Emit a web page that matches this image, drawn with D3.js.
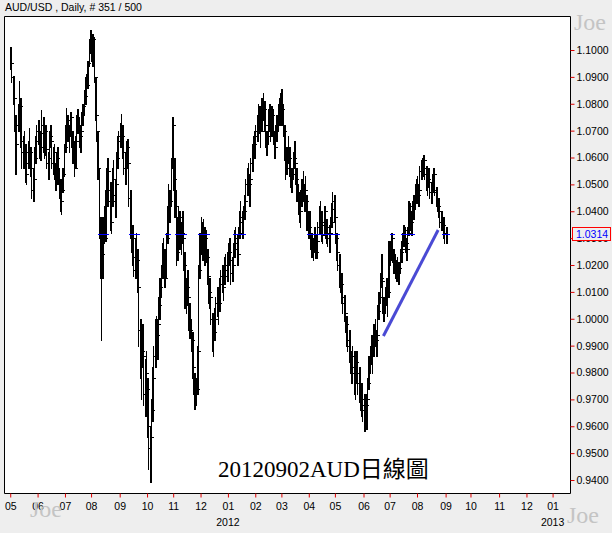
<!DOCTYPE html>
<html><head><meta charset="utf-8">
<script src="https://cdn.jsdelivr.net/npm/d3@7"></script>
<style>body{margin:0;background:#eeeeee;overflow:hidden}</style>
</head><body><svg id="c" width="612" height="533"></svg>
<script>
// Daily AUD/USD bars, values in pips above 0.9000 (e.g. 1314 -> 1.0314)
const BASE = 0.9;
const startDate = "2011-05-02"; // first bar, weekdays only
const highs = [
2010,1965,1905,1830,1760,1740,1800,1885,1820,1700,
1680,1700,1650,1600,1660,1710,1640,1590,1560,1640,
1680,1720,1740,1720,1700,1775,1750,1740,1720,1660,
1620,1700,1720,1680,1640,1650,1580,1620,1640,1560,
1520,1500,1560,1650,1720,1785,1760,1720,1770,1760,
1700,1660,1680,1760,1780,1750,1720,1770,1800,1850,
1900,1910,1960,2040,2075,2070,2060,2050,1900,1790,
1700,1560,1380,1280,1380,1420,1480,1560,1600,1580,
1510,1480,1560,1590,1520,1620,1680,1700,1730,1762,
1720,1650,1620,1660,1670,1600,1480,1400,1350,1300,
1300,1320,1260,1130,1000,950,980,900,850,880,
780,640,600,700,820,900,1000,1010,1000,1080,
1150,1200,1280,1300,1260,1320,1420,1500,1480,1600,
1750,1720,1600,1480,1380,1420,1400,1360,1400,1320,
1250,1150,1180,1100,1060,1000,950,880,800,780,
900,1200,1320,1380,1360,1370,1340,1330,1260,1200,
1150,1110,1020,980,1040,1080,1120,1090,1150,1180,
1200,1180,1230,1240,1250,1280,1300,1260,1230,1280,
1330,1340,1310,1340,1400,1440,1400,1420,1460,1520,
1560,1580,1540,1600,1650,1680,1700,1720,1760,1800,
1790,1760,1820,1840,1810,1760,1700,1780,1800,1760,
1790,1780,1700,1720,1760,1800,1820,1840,1855,1800,
1720,1660,1640,1680,1640,1600,1560,1620,1660,1620,
1560,1500,1470,1480,1520,1550,1500,1530,1460,1400,
1400,1380,1320,1300,1340,1330,1310,1360,1420,1440,
1400,1380,1420,1410,1370,1360,1350,1380,1430,1470,
1460,1400,1320,1280,1240,1200,1170,1120,1090,1060,
1010,980,960,920,880,900,880,860,880,840,
820,780,760,730,720,700,720,780,860,900,
940,920,980,1000,960,1050,1100,1170,1240,1160,
1080,1120,1150,1120,1290,1290,1320,1310,1260,1240,
1220,1230,1210,1260,1290,1320,1350,1340,1300,1340,
1440,1430,1400,1440,1460,1500,1520,1530,1500,1570,
1590,1600,1610,1600,1570,1540,1560,1530,1510,1540,
1560,1550,1490,1470,1450,1420,1400,1400,1380,1360,
1340];
const lows = [
1930,1880,1800,1700,1540,1630,1700,1760,1640,1560,
1560,1600,1510,1500,1560,1600,1530,1450,1440,1500,
1580,1620,1650,1600,1590,1660,1620,1600,1610,1560,
1520,1580,1640,1560,1540,1520,1480,1520,1500,1450,
1400,1390,1470,1530,1620,1690,1660,1620,1680,1640,
1580,1530,1560,1640,1690,1640,1620,1680,1720,1760,
1800,1840,1860,1940,1990,1960,1940,1880,1740,1660,
1520,1300,1150,920,1150,1280,1290,1400,1420,1450,
1330,1320,1420,1440,1380,1480,1560,1590,1640,1660,
1600,1540,1500,1540,1560,1420,1300,1250,1200,1160,
1150,1200,1100,900,780,700,820,680,640,700,
560,440,393,500,620,740,820,880,850,950,
1000,1080,1150,1180,1120,1150,1280,1380,1360,1420,
1560,1480,1380,1200,1220,1280,1260,1240,1280,1180,
1040,1020,1050,960,930,880,780,720,663,680,
720,880,1150,1240,1220,1250,1200,1210,1130,1060,
1040,980,880,860,920,940,1010,980,1030,1080,
1100,1070,1130,1150,1140,1180,1200,1130,1140,1180,
1230,1250,1200,1230,1300,1340,1300,1330,1370,1410,
1460,1480,1420,1500,1550,1580,1600,1620,1660,1700,
1690,1640,1700,1740,1700,1640,1610,1650,1700,1660,
1680,1650,1600,1620,1660,1700,1720,1740,1720,1680,
1590,1520,1540,1580,1530,1490,1470,1520,1560,1500,
1440,1390,1360,1340,1420,1440,1400,1420,1330,1300,
1300,1260,1230,1220,1250,1225,1225,1270,1320,1340,
1290,1280,1320,1300,1280,1270,1250,1290,1340,1380,
1360,1280,1220,1180,1120,1100,1060,1020,990,950,
900,880,840,800,760,780,720,700,760,720,
690,660,640,620,583,600,590,660,740,800,
830,800,860,900,860,920,1000,1060,1120,1020,
990,1020,1050,1010,1080,1200,1220,1210,1170,1150,
1140,1150,1130,1170,1210,1230,1270,1250,1220,1250,
1310,1330,1310,1360,1370,1410,1430,1440,1420,1470,
1520,1530,1530,1520,1480,1460,1490,1450,1430,1460,
1470,1460,1420,1400,1380,1340,1330,1340,1300,1280,
1280];
const closes = [
1950,1900,1820,1720,1650,1720,1780,1790,1660,1620,
1640,1620,1540,1580,1640,1620,1560,1480,1520,1600,
1660,1700,1680,1640,1690,1720,1650,1700,1630,1580,
1600,1680,1660,1580,1620,1540,1560,1600,1520,1470,
1440,1480,1540,1640,1700,1740,1680,1700,1750,1660,
1620,1560,1660,1740,1720,1680,1700,1760,1790,1830,
1880,1870,1950,2020,2030,1980,2040,1900,1760,1700,
1560,1340,1200,1240,1350,1300,1460,1440,1550,1480,
1360,1440,1520,1460,1500,1600,1660,1680,1700,1680,
1620,1560,1580,1640,1580,1450,1330,1300,1230,1180,
1260,1220,1120,960,820,880,860,720,800,740,
600,520,560,660,780,860,980,940,980,1050,
1120,1180,1250,1220,1150,1300,1400,1460,1440,1580,
1720,1520,1420,1250,1340,1380,1300,1320,1300,1200,
1080,1120,1080,1000,960,920,820,760,720,740,
880,1180,1280,1300,1340,1270,1300,1230,1160,1100,
1080,1000,920,950,1000,1060,1040,1060,1130,1160,
1120,1160,1200,1180,1220,1250,1220,1170,1200,1260,
1300,1280,1240,1320,1380,1360,1380,1400,1440,1500,
1530,1500,1520,1580,1630,1650,1680,1700,1740,1770,
1720,1700,1800,1780,1720,1660,1680,1760,1720,1700,
1760,1670,1640,1700,1740,1780,1800,1760,1780,1700,
1620,1560,1620,1600,1560,1520,1540,1600,1580,1520,
1460,1420,1400,1460,1500,1460,1480,1440,1350,1340,
1320,1280,1260,1280,1300,1250,1290,1340,1380,1360,
1310,1350,1400,1320,1340,1300,1320,1360,1410,1440,
1380,1300,1250,1200,1160,1130,1080,1060,1020,980,
920,900,880,820,860,800,760,840,800,760,
720,700,680,660,640,680,700,760,840,880,
860,900,960,920,940,1030,1080,1150,1140,1040,
1060,1100,1080,1100,1270,1230,1300,1230,1200,1180,
1200,1170,1190,1250,1260,1310,1330,1280,1260,1320,
1420,1360,1380,1420,1440,1480,1490,1460,1480,1550,
1570,1560,1590,1540,1500,1520,1510,1470,1490,1480,
1540,1470,1440,1420,1400,1360,1380,1350,1320,1314,
1314];
const yTicks = [0.94,0.95,0.96,0.97,0.98,0.99,1.00,1.01,1.02,1.03,1.04,1.05,1.06,1.07,1.08,1.09,1.10];
const lastPrice = 1.0314;
const trendLine = [{i:300, p:0.9936}, {i:344, p:1.0330}];
const title = "AUD/USD , Daily, # 351 / 500";
const caption = "20120902AUD日線圖";
const watermark = "Joe";

const svg = d3.select("#c");
const W = 612, H = 533;
const L = 4, R = 570, T = 16, B = 493;
svg.append("rect").attr("width", W).attr("height", H).attr("fill", "#eeeeee");
svg.append("rect").attr("x", L).attr("y", T).attr("width", R - L).attr("height", B - T).attr("fill", "#ffffff");

const x = d3.scaleLinear().domain([-5, 450]).range([L, R]);
const y = d3.scaleLinear().domain([0.94, 1.10]).range([480, 50]);
const P = v => BASE + v / 10000;

const bars = highs.map((h, i) => ({i, h: P(h), l: P(lows[i]), c: P(closes[i])}));

svg.append("clipPath").attr("id", "clip").append("rect")
  .attr("x", L).attr("y", T).attr("width", R - L).attr("height", B - T);
const g = svg.append("g").attr("clip-path", "url(#clip)");

const px = d => Math.round(x(d.i)) + 0.5;
g.append("g").selectAll("line.v").data(bars).join("line")
  .attr("x1", px).attr("x2", px)
  .attr("y1", d => Math.round(y(d.h))).attr("y2", d => Math.round(y(d.l)) + 1)
  .attr("stroke", "#000").attr("stroke-width", 1).attr("shape-rendering", "crispEdges");
// second pixel column on even bars to thicken like the reference rendering
g.append("g").selectAll("line.v2").data(bars.filter(d => d.i % 2 === 0)).join("line")
  .attr("x1", d => px(d) + 1).attr("x2", d => px(d) + 1)
  .attr("y1", d => Math.round(y(d.h))).attr("y2", d => Math.round(y(d.l)) + 1)
  .attr("stroke", "#000").attr("stroke-width", 1).attr("shape-rendering", "crispEdges");
g.append("g").selectAll("line.c").data(bars).join("line")
  .attr("x1", px).attr("x2", d => px(d) + 3)
  .attr("y1", d => Math.round(y(d.c)) + 0.5).attr("y2", d => Math.round(y(d.c)) + 0.5)
  .attr("stroke", "#000").attr("stroke-width", 1).attr("shape-rendering", "crispEdges");

// blue marks of the last price level where bars cross it
const ly = Math.round(y(lastPrice)) + 0.5;
g.append("g").selectAll("line").data(bars.filter(d => d.l <= lastPrice && d.h >= lastPrice)).join("line")
  .attr("x1", d => px(d) - 2).attr("x2", d => px(d) + 3)
  .attr("y1", ly).attr("y2", ly)
  .attr("stroke", "#0000ff").attr("stroke-width", 1).attr("shape-rendering", "crispEdges");

// trend line
g.append("line")
  .attr("x1", x(trendLine[0].i)).attr("y1", y(trendLine[0].p))
  .attr("x2", x(trendLine[1].i)).attr("y2", y(trendLine[1].p))
  .attr("stroke", "#4a4ad4").attr("stroke-width", 3);

// frame
svg.append("path").attr("d", `M${L+0.5},${T+0.5}H${R+0.5}V${B+0.5}H${L+0.5}Z`)
  .attr("fill", "none").attr("stroke", "#000").attr("stroke-width", 1);

const font = "'Liberation Sans', Arial, sans-serif";

// y axis
const yAxis = svg.append("g").attr("transform", `translate(${R+0.5},0)`)
  .call(d3.axisRight(y).tickValues(yTicks).tickFormat(d3.format(".4f")).tickSize(4).tickPadding(2));
yAxis.select(".domain").remove();
yAxis.selectAll(".tick line").attr("stroke", "#e00000");
yAxis.selectAll(".tick text").attr("fill", "#000").style("font", `10.5px ${font}`);

// x axis: month ticks on trading-day index
const days = [];
for (let d = new Date(startDate + "T00:00:00"); days.length < 470; d.setDate(d.getDate() + 1)) {
  const wd = d.getDay();
  if (wd !== 0 && wd !== 6) days.push(new Date(d));
}
const monthIdx = days.map((d, i) => i)
  .filter(i => i === 0 || days[i].getMonth() !== days[i - 1].getMonth())
  .filter(i => x(i) <= R);
const xAxis = svg.append("g").attr("transform", `translate(0,${B+0.5})`)
  .call(d3.axisBottom(x).tickValues(monthIdx).tickFormat(i => d3.timeFormat("%m")(days[i])).tickSize(4).tickPadding(5));
xAxis.select(".domain").remove();
xAxis.selectAll(".tick line").attr("stroke", "#e00000");
xAxis.selectAll(".tick text").attr("fill", "#000").style("font", `10.5px ${font}`);
svg.append("g").selectAll("text").data(monthIdx.filter(i => days[i].getMonth() === 0)).join("text")
  .attr("x", d => x(d)).attr("y", 526).attr("text-anchor", "middle")
  .style("font", `10.5px ${font}`).attr("fill", "#000")
  .text(d => d3.timeFormat("%Y")(days[d]));

// title
svg.append("text").attr("x", 5).attr("y", 11).style("font", `10.5px ${font}`).attr("fill", "#000").text(title);

// last price box
svg.append("rect").attr("x", 572.5).attr("y", Math.round(y(lastPrice)) - 6.5).attr("width", 38).attr("height", 13)
  .attr("fill", "#eeeeee").attr("stroke", "#ff0000").attr("stroke-width", 1);
svg.append("text").attr("x", 576).attr("y", y(lastPrice)).attr("dy", "0.35em")
  .style("font", `10.5px ${font}`).attr("fill", "#0000ff").text(d3.format(".4f")(lastPrice));

// caption
svg.append("text").attr("x", 218).attr("y", 477)
  .style("font", "23px 'Liberation Serif', 'Noto Sans CJK TC', serif").attr("fill", "#000").text(caption);

// watermarks
const wm = [[574, 30], [567, 523], [30, 517]];
svg.append("g").selectAll("text").data(wm).join("text")
  .attr("x", d => d[0]).attr("y", d => d[1])
  .style("font", "24px 'Liberation Serif', serif").attr("fill", "#c4c4c4").text(watermark);
</script>
</body></html>
